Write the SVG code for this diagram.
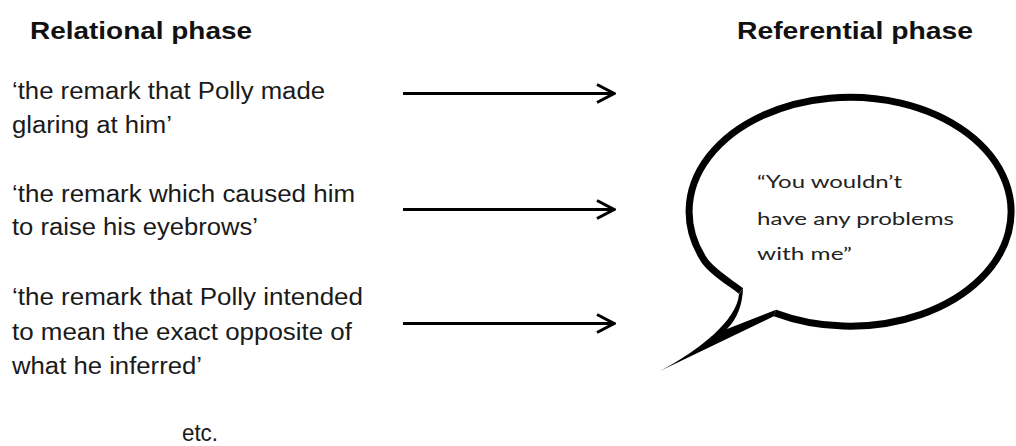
<svg xmlns="http://www.w3.org/2000/svg" width="1016" height="446" viewBox="0 0 1016 446">
  <style>
    .title { font-family: "Liberation Sans", Arial, sans-serif; font-weight: bold; font-size: 24px; fill: #111; }
    .body { font-family: "Liberation Sans", Arial, sans-serif; font-size: 23px; fill: #1a1a1a; }
    .quote { font-family: Lato, "Open Sans", sans-serif; font-size: 17px; fill: #222; }
    .arrow { stroke: #000; stroke-width: 3; fill: none; }
    .bubble { stroke: #000; stroke-width: 7; fill: #fff; stroke-linejoin: round; }
    .tail { fill: #000; stroke: none; }
  </style>
  <defs>
    <marker id="open" viewBox="0 0 22 22" markerWidth="22" markerHeight="22" refX="18" refY="11" orient="auto" markerUnits="userSpaceOnUse">
      <path d="M3,2 L20,11 L3,20" fill="none" stroke="#000" stroke-width="3"/>
    </marker>
  </defs>
  <rect width="1016" height="446" fill="#fff"/>

  <g id="title-relational">
    <text class="title" x="30" y="39" textLength="222" lengthAdjust="spacingAndGlyphs">Relational phase</text>
  </g>
  <g id="title-referential">
    <text class="title" x="737" y="39" textLength="236" lengthAdjust="spacingAndGlyphs">Referential phase</text>
  </g>

  <g id="desc1">
    <text class="body" x="12" y="99" textLength="313" lengthAdjust="spacingAndGlyphs">‘the remark that Polly made</text>
    <text class="body" x="12" y="133" textLength="160" lengthAdjust="spacingAndGlyphs">glaring at him’</text>
  </g>
  <g id="desc2">
    <text class="body" x="12" y="202" textLength="343" lengthAdjust="spacingAndGlyphs">‘the remark which caused him</text>
    <text class="body" x="12" y="235" textLength="246" lengthAdjust="spacingAndGlyphs">to raise his eyebrows’</text>
  </g>
  <g id="desc3">
    <text class="body" x="12" y="305" textLength="351" lengthAdjust="spacingAndGlyphs">‘the remark that Polly intended</text>
    <text class="body" x="12" y="340" textLength="340" lengthAdjust="spacingAndGlyphs">to mean the exact opposite of</text>
    <text class="body" x="12" y="374" textLength="190" lengthAdjust="spacingAndGlyphs">what he inferred’</text>
  </g>
  <g id="etc">
    <text class="body" x="182" y="441" textLength="36" lengthAdjust="spacingAndGlyphs">etc.</text>
  </g>

  <g id="connectors">
    <line class="arrow" x1="403" y1="93.5" x2="612" y2="93.5" marker-end="url(#open)"/>
    <line class="arrow" x1="403" y1="209.5" x2="612" y2="209.5" marker-end="url(#open)"/>
    <line class="arrow" x1="403" y1="323.5" x2="612" y2="323.5" marker-end="url(#open)"/>
  </g>

  <g id="speech-bubble">
    <path class="bubble" d="M 775 313 A 161 114.5 0 1 0 704.1 260 C 712 272.2 731 283 741 291"/>
    <path class="tail" d="M 739 294 C 737 320 700 350 660 371 L 773.8 316.3 L 776.2 309.7 L 727 329 Q 742 314 743 288.5 Z"/>
    <text class="quote" x="757" y="188" textLength="145" lengthAdjust="spacingAndGlyphs">“You wouldn’t</text>
    <text class="quote" x="757" y="225" textLength="197" lengthAdjust="spacingAndGlyphs">have any problems</text>
    <text class="quote" x="757" y="260" textLength="95" lengthAdjust="spacingAndGlyphs">with me”</text>
  </g>
</svg>
